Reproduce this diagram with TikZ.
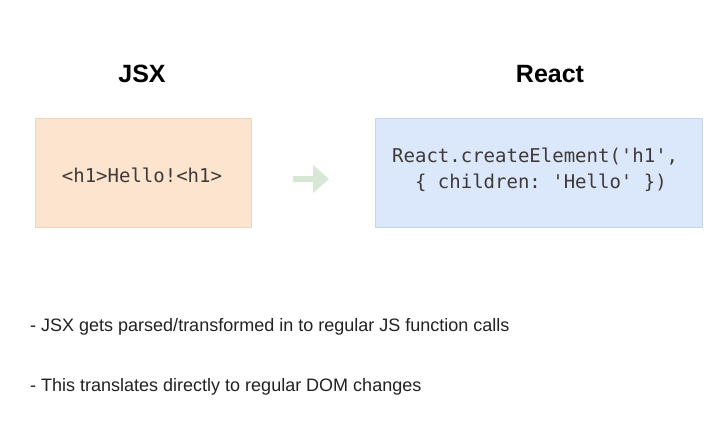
\documentclass[tikz,border=0pt]{standalone}
\usepackage{fontspec}
\setmainfont{Liberation Sans}
\setmonofont{DejaVu Sans Mono}
\definecolor{peach}{HTML}{FCE4CF}
\definecolor{peachline}{HTML}{F4D3B6}
\definecolor{lblue}{HTML}{DBE7FA}
\definecolor{lblueline}{HTML}{C5D5EE}
\definecolor{arrowgreen}{HTML}{D8E8D6}
\definecolor{codecol}{HTML}{3F3A38}
\definecolor{txtcol}{HTML}{222222}
\begin{document}
\begin{tikzpicture}[x=1pt,y=-1pt,
  title/.style={font=\fontsize{25}{30}\selectfont\bfseries, text=black, inner sep=0pt},
  codebox/.style={inner sep=0pt, line width=0.8pt},
  code/.style={font=\fontsize{19}{26}\selectfont\ttfamily, text=codecol, inner sep=0pt, anchor=west},
  bullet/.style={font=\fontsize{18}{22}\selectfont, text=txtcol, inner sep=0pt, anchor=west}]
\useasboundingbox[fill=white] (0,0) rectangle (720,423);
\node[title] (tjsx) at (142,74) {JSX};
\node[title] (treact) at (550,74) {React};
\path[codebox, fill=peach, draw=peachline] (35,118) rectangle (251,227);
\node[code, anchor=center] (jsx) at (142,175) {<h1>Hello!<h1>};
\path[codebox, fill=lblue, draw=lblueline] (375,118) rectangle (702,227);
\node[code] (r1) at (392,157) {React.createElement('h1',};
\node[code] (r2) at (392,183) {\ \ \{ children: 'Hello' \})};
\fill[arrowgreen] (293,176) -- (313,176) -- (313,165) -- (329,179) -- (313,193) -- (313,182) -- (293,182) -- cycle;
\node[bullet] (b1) at (30,327) {- JSX gets parsed/transformed in to regular JS function calls};
\node[bullet] (b2) at (30,387) {- This translates directly to regular DOM changes};
\end{tikzpicture}
\end{document}
